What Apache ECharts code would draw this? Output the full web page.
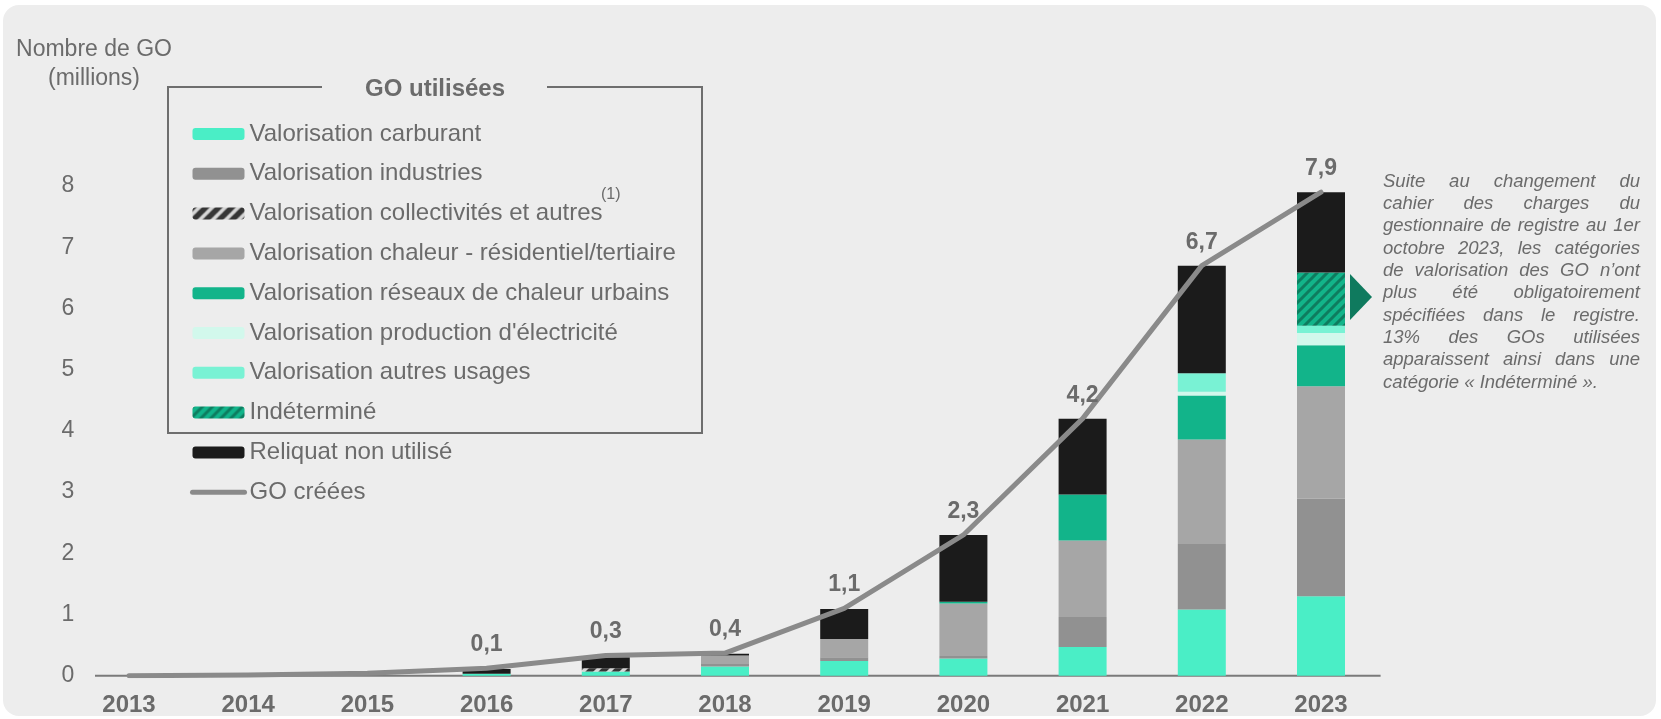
<!DOCTYPE html>
<html>
<head>
<meta charset="utf-8">
<script src="https://cdn.jsdelivr.net/npm/echarts@6/dist/echarts.min.js"></script>
<style>
  body { margin: 0; background: #ffffff; }
  #panel { position: absolute; left: 3px; top: 5px; width: 1653px; height: 711px; background: #ededed; border-radius: 16px; }
  #chart { position: absolute; left: 0; top: 0; width: 1661px; height: 719px; }
</style>
</head>
<body>
<div id="panel"></div>
<div id="chart"></div>
<script>
// données (millions de GO)
const years = ['2013', '2014', '2015', '2016', '2017', '2018', '2019', '2020', '2021', '2022', '2023']
const carburant = [0, 0, 0, 0.03, 0.07, 0.15, 0.24, 0.28, 0.47, 1.08, 1.30]
const industries = [0, 0, 0, 0, 0, 0.04, 0.06, 0.04, 0.49, 1.07, 1.59]
const collectivites = [0, 0, 0, 0, 0.05, 0, 0, 0, 0, 0, 0]
const chaleurRes = [0, 0, 0, 0, 0, 0.14, 0.30, 0.86, 1.25, 1.71, 1.84]
const reseauxChaleur = [0, 0, 0, 0, 0, 0, 0, 0.03, 0.75, 0.72, 0.67]
const electricite = [0, 0, 0, 0, 0, 0, 0, 0, 0, 0.06, 0.20]
const autresUsages = [0, 0, 0, 0, 0, 0, 0, 0, 0, 0.30, 0.12]
const indetermine = [0, 0, 0, 0, 0, 0, 0, 0, 0, 0, 0.87]
const reliquat = [0, 0, 0, 0.08, 0.18, 0.03, 0.49, 1.09, 1.24, 1.76, 1.31]
const goCreees = [0, 0.01, 0.04, 0.12, 0.33, 0.37, 1.1, 2.3, 4.2, 6.7, 7.9]

const noteLines = [
  'Suite au changement du',
  'cahier des charges du',
  'gestionnaire de registre au 1er',
  'octobre 2023, les catégories',
  'de valorisation des GO n’ont',
  'plus été obligatoirement',
  'spécifiées dans le registre.',
  '13% des GOs utilisées',
  'apparaissent ainsi dans une',
  'catégorie « Indéterminé ».'
]

const FONT = '"Liberation Sans", Arial, sans-serif'
const GREY_TXT = '#6b6b6b'

// hachures en diagonale
function stripes (bg, fg, period, lineW) {
  const c = document.createElement('canvas')
  c.width = period
  c.height = period
  const ctx = c.getContext('2d')
  ctx.fillStyle = bg
  ctx.fillRect(0, 0, period, period)
  ctx.strokeStyle = fg
  ctx.lineWidth = lineW
  ctx.beginPath()
  ctx.moveTo(0, period); ctx.lineTo(period, 0)
  ctx.moveTo(-period / 2, period / 2); ctx.lineTo(period / 2, -period / 2)
  ctx.moveTo(period / 2, period * 1.5); ctx.lineTo(period * 1.5, period / 2)
  ctx.stroke()
  return { image: c, repeat: 'repeat' }
}

function bar (name, data, color) {
  return {
    name: name,
    type: 'bar',
    stack: 'go',
    barWidth: 48,
    data: data,
    itemStyle: { color: color }
  }
}

const chart = echarts.init(document.getElementById('chart'))

chart.setOption({
  backgroundColor: 'transparent',
  animation: false,
  textStyle: { fontFamily: FONT },
  grid: { left: 69.4, right: 280.4, top: 186.1, bottom: 43.3 },
  legend: {
    orient: 'vertical',
    left: 190,
    top: 122,
    padding: 0,
    itemWidth: 52,
    itemHeight: 12,
    itemGap: 15.8,
    selectedMode: false,
    textStyle: { fontFamily: FONT, fontSize: 24, color: GREY_TXT, lineHeight: 24 },
    data: [
      'Valorisation carburant',
      'Valorisation industries',
      'Valorisation collectivités et autres',
      'Valorisation chaleur - résidentiel/tertiaire',
      'Valorisation réseaux de chaleur urbains',
      "Valorisation production d'électricité",
      'Valorisation autres usages',
      'Indéterminé',
      'Reliquat non utilisé',
      { name: 'GO créées', itemStyle: { opacity: 0 }, lineStyle: { width: 5, cap: 'round' } }
    ]
  },
  xAxis: {
    type: 'category',
    data: years,
    axisLine: { show: false },
    axisTick: { show: false },
    axisLabel: { margin: 18, fontFamily: FONT, fontSize: 24, fontWeight: 'bold', color: GREY_TXT }
  },
  yAxis: {
    type: 'value',
    min: 0,
    max: 8,
    interval: 1,
    splitLine: { show: false },
    axisLine: { show: false },
    axisTick: { show: false },
    axisLabel: { margin: -5, fontFamily: FONT, fontSize: 23, color: GREY_TXT }
  },
  series: [
    bar('Valorisation carburant', carburant, '#4aeec6'),
    bar('Valorisation industries', industries, '#919191'),
    bar('Valorisation collectivités et autres', collectivites, stripes('#d6d6d6', '#353535', 13, 5.5)),
    bar('Valorisation chaleur - résidentiel/tertiaire', chaleurRes, '#a6a6a6'),
    bar('Valorisation réseaux de chaleur urbains', reseauxChaleur, '#12b48a'),
    bar("Valorisation production d'électricité", electricite, '#d2f8ec'),
    bar('Valorisation autres usages', autresUsages, '#79f2d4'),
    bar('Indéterminé', indetermine, stripes('#12b48a', '#0e7c5f', 10, 3)),
    bar('Reliquat non utilisé', reliquat, '#1b1b1b'),
    {
      name: 'GO créées',
      type: 'line',
      data: goCreees,
      symbol: 'circle',
      symbolSize: 2,
      showSymbol: true,
      z: 5,
      itemStyle: { color: '#8a8a8a' },
      lineStyle: { color: '#8a8a8a', width: 5, cap: 'round', join: 'round' },
      label: {
        show: true,
        position: 'top',
        distance: 11,
        fontFamily: FONT,
        fontSize: 23,
        fontWeight: 'bold',
        color: GREY_TXT,
        formatter: p => (p.value >= 0.1 ? p.value.toFixed(1).replace('.', ',') : '')
      }
    }
  ]
})

// éléments de décor : axe, cadre de légende, titres, note
function txt (x, y, text, opt) {
  return {
    type: 'text',
    x: x,
    y: y,
    z: 10,
    style: Object.assign({
      text: text,
      fill: GREY_TXT,
      font: '24px ' + FONT,
      align: 'left',
      textAlign: 'left',
      verticalAlign: 'middle',
      textVerticalAlign: 'middle'
    }, opt || {})
  }
}

const NOTE_X = 1383
const NOTE_W = 257
const NOTE_Y = 181.7
const NOTE_LH = 22.3
const NOTE_FONT = 'italic 18.5px ' + FONT

function noteGraphics () {
  const ctx = document.createElement('canvas').getContext('2d')
  ctx.font = NOTE_FONT
  const out = []
  noteLines.forEach((line, i) => {
    const y = NOTE_Y + i * NOTE_LH
    const words = line.split(' ')
    if (i === noteLines.length - 1 || words.length < 2) {
      out.push(txt(NOTE_X, y, line, { font: NOTE_FONT }))
      return
    }
    const widths = words.map(w => ctx.measureText(w).width)
    const gap = (NOTE_W - widths.reduce((a, b) => a + b, 0)) / (words.length - 1)
    let x = NOTE_X
    words.forEach((w, j) => {
      out.push(txt(x, y, w, { font: NOTE_FONT }))
      x += widths[j] + gap
    })
  })
  return out
}

const y0 = chart.convertToPixel({ yAxisIndex: 0 }, 0)
const xRight = chart.convertToPixel({ xAxisIndex: 0 }, '2023') + 59.6

chart.setOption({
  graphic: [
    {
      type: 'line',
      z: 1,
      shape: { x1: 95, y1: y0, x2: xRight, y2: y0 },
      style: { stroke: '#7a7a7a', lineWidth: 2 }
    },
    {
      type: 'polyline',
      z: 1,
      shape: { points: [[322, 87], [168, 87], [168, 433], [702, 433], [702, 87], [547, 87]] },
      style: { stroke: '#6e6e6e', lineWidth: 2, fill: null }
    },
    txt(435, 89, 'GO utilisées', { font: 'bold 24px ' + FONT, align: 'center', textAlign: 'center' }),
    txt(94, 64, 'Nombre de GO\n(millions)', { font: '23px ' + FONT, align: 'center', textAlign: 'center', lineHeight: 29 }),
    txt(601, 195, '(1)', { font: '16px ' + FONT }),
    {
      type: 'polygon',
      z: 10,
      shape: { points: [[1350, 274], [1372, 297], [1350, 320]] },
      style: { fill: '#0f7a5e' }
    }
  ].concat(noteGraphics())
})
</script>
</body>
</html>
